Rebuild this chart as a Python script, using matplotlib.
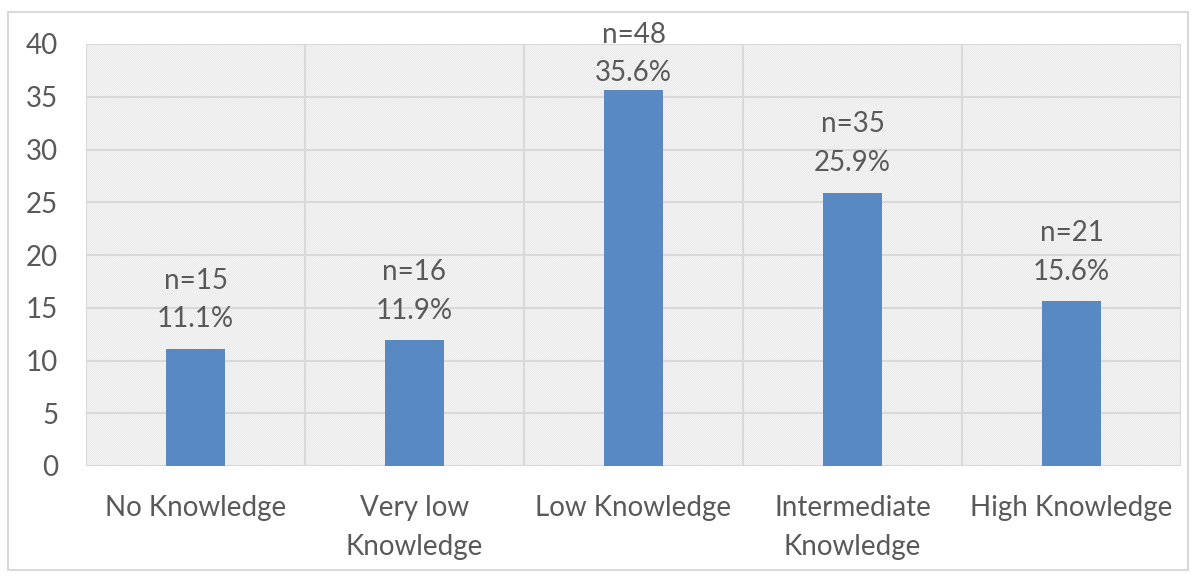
import matplotlib
matplotlib.use("Agg")
import matplotlib.pyplot as plt
from matplotlib.patches import Rectangle

categories = ["No Knowledge", "Very low\nKnowledge", "Low Knowledge",
              "Intermediate\nKnowledge", "High Knowledge"]
percent = [11.1, 11.9, 35.6, 25.9, 15.6]
counts = [15, 16, 48, 35, 21]
yticks = [0, 5, 10, 15, 20, 25, 30, 35, 40]

plt.rcParams['font.family'] = ['Lato', 'DejaVu Sans']
txt = '#595959'
grid = '#d9d9d9'
fs = 20

fig = plt.figure(figsize=(11.96, 5.77), dpi=100)
ax = fig.add_axes([86/1196, 1-466/577, (1181-86)/1196, (466-44)/577])

x = list(range(len(categories)))
ax.set_xlim(-0.5, len(categories) - 0.5)
ax.set_ylim(0, 40)

plt.rcParams['hatch.linewidth'] = 0.8
bg = Rectangle((0, 0), 1, 1, transform=ax.transAxes, facecolor='white',
               edgecolor='#e9e9e9', hatch='\\' * 15, linewidth=0, zorder=0)
ax.add_patch(bg)

for yv in yticks:
    ax.axhline(yv, color=grid, lw=1.5, zorder=1)
for i in range(len(categories) + 1):
    ax.axvline(i - 0.5, color=grid, lw=1.5, zorder=1)

ax.bar(x, percent, width=0.265, color='#5889c3', zorder=3)

for xi, p, n in zip(x, percent, counts):
    # labels near the top of the axis are pushed down to stay inside the chart
    off = 3 if p > 33 else 12
    ax.annotate(f"n={n}\n{p:.1f}%", (xi, p), xytext=(0, off), textcoords='offset points',
                ha='center', va='bottom', fontsize=fs, color=txt, linespacing=1.6, zorder=4)

ax.set_xticks(x)
ax.set_xticklabels(categories, fontsize=fs, color=txt, linespacing=1.6)
ax.set_yticks(yticks)
ax.set_yticklabels([str(v) for v in yticks], fontsize=fs, color=txt)
ax.tick_params(axis='both', length=0)
ax.tick_params(axis='x', pad=21)
ax.tick_params(axis='y', pad=20)
for s in ax.spines.values():
    s.set_visible(False)

fig.patches.append(Rectangle((8/1196, 1-570/577), 1180/1196, 558/577, transform=fig.transFigure,
                             fill=False, edgecolor='#d9d9d9', lw=1.5))

fig.savefig('out.png', dpi=100)
